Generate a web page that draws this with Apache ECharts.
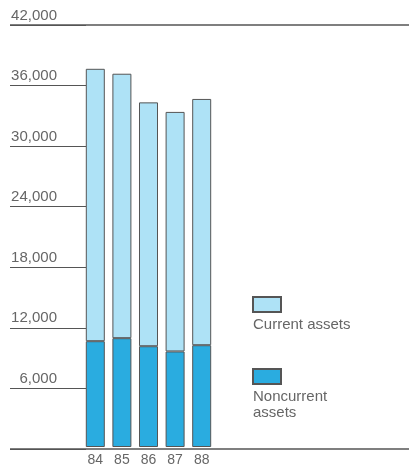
<!DOCTYPE html>
<html>
<head>
<meta charset="utf-8">
<style>
  html, body { margin: 0; padding: 0; background: #ffffff; }
  #chart { width: 409px; height: 467px; }
</style>
<script src="https://cdn.jsdelivr.net/npm/echarts@6/dist/echarts.min.js"></script>
</head>
<body>
<div id="chart"></div>
<script>
// Fiscal years (two-digit) along the bottom
const years = ['84', '85', '86', '87', '88'];
// Asset totals per year, split into the two stacked parts
const noncurrentAssets = [10530, 10830, 10030, 9510, 10130];
const currentAssets = [27110, 26320, 24270, 23840, 24510];
// Value scale
const yMin = 0;
const yMax = 42000;
const yStep = 6000;

const seriesNames = ['Current assets', 'Noncurrent assets'];

const LIGHT = '#aee2f6';
const DARK = '#2aace0';
const EDGE = '#555555';
const INK = '#666666';
const FONT = '"Liberation Sans", Arial, Helvetica, sans-serif';

const chart = echarts.init(document.getElementById('chart'), null, { renderer: 'canvas' });

const plotTop = 25;
const plotBottom = 18;

function valueAxis(gridIndex, extra) {
  return Object.assign({
    type: 'value',
    gridIndex: gridIndex,
    min: yMin,
    max: yMax,
    interval: yStep,
    axisLine: { show: false },
    axisTick: { show: false },
    axisLabel: { show: false },
    splitLine: { show: false }
  }, extra);
}

chart.setOption({
  backgroundColor: '#ffffff',
  animation: false,
  grid: [
    // full-width frame: top and base rules
    { left: 10, right: 0, top: plotTop, bottom: plotBottom },
    // short rules under the value labels
    { left: 10, width: 76, top: plotTop, bottom: plotBottom },
    // the bars
    { left: 82, width: 133, top: plotTop, bottom: plotBottom }
  ],
  xAxis: [
    { type: 'value', gridIndex: 0, min: 0, max: 1, show: false },
    { type: 'value', gridIndex: 1, min: 0, max: 1, show: false },
    {
      type: 'category',
      gridIndex: 2,
      data: years,
      axisLine: { show: false },
      axisTick: { show: false },
      axisLabel: {
        color: INK,
        fontFamily: FONT,
        fontSize: 14,
        margin: 6
      }
    }
  ],
  yAxis: [
    valueAxis(0, {
      splitLine: {
        show: true,
        lineStyle: {
          width: 1.5,
          color: [EDGE, 'rgba(0,0,0,0)', 'rgba(0,0,0,0)', 'rgba(0,0,0,0)',
                  'rgba(0,0,0,0)', 'rgba(0,0,0,0)', 'rgba(0,0,0,0)', EDGE]
        }
      }
    }),
    valueAxis(1, {
      splitLine: { show: true, lineStyle: { width: 1.2, color: EDGE } },
      axisLabel: {
        show: true,
        inside: true,
        showMinLabel: false,
        margin: 47,
        align: 'right',
        verticalAlign: 'bottom',
        padding: [0, 0, 2, 0],
        color: INK,
        fontFamily: FONT,
        fontSize: 15,
        formatter: function (v) { return v.toLocaleString('en-US'); }
      }
    }),
    valueAxis(2, {})
  ],
  legend: [
    {
      data: [seriesNames[0]],
      left: 247, top: 291,
      itemWidth: 28, itemHeight: 15,
      icon: 'rect',
      formatter: function () { return ''; },
      selectedMode: false
    },
    {
      data: [seriesNames[1]],
      left: 247, top: 363,
      itemWidth: 28, itemHeight: 15,
      icon: 'rect',
      formatter: function () { return ''; },
      selectedMode: false
    }
  ],
  graphic: [
    {
      type: 'text', left: 253, top: 317,
      style: { text: 'Current assets', fill: INK, font: '15px ' + FONT }
    },
    {
      type: 'text', left: 253, top: 389,
      style: { text: 'Noncurrent\nassets', fill: INK, font: '15px ' + FONT, lineHeight: 16 }
    }
  ],
  series: [
    {
      name: seriesNames[1],
      type: 'bar',
      xAxisIndex: 2,
      yAxisIndex: 2,
      stack: 'assets',
      barWidth: 19,
      data: noncurrentAssets,
      itemStyle: { color: DARK, borderColor: EDGE, borderWidth: 1 }
    },
    {
      name: seriesNames[0],
      type: 'bar',
      xAxisIndex: 2,
      yAxisIndex: 2,
      stack: 'assets',
      barWidth: 19,
      data: currentAssets,
      itemStyle: { color: LIGHT, borderColor: EDGE, borderWidth: 1 }
    }
  ]
});
</script>
</body>
</html>
